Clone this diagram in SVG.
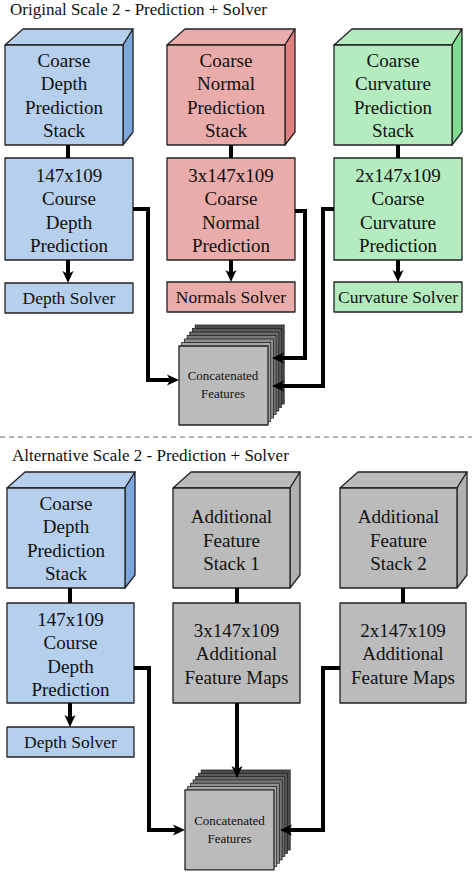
<svg xmlns="http://www.w3.org/2000/svg" width="472" height="872" viewBox="0 0 472 872" font-family="'Liberation Serif', Tinos, serif">
<defs>
<style>
text{fill:#111;text-anchor:middle}
.t{font-size:19px}
.s{font-size:17.5px}
.c{font-size:13px}
.h{font-size:17px;text-anchor:start}
.ed{stroke:#222;stroke-width:1.3;stroke-linejoin:round}
.blue{fill:#b5cfed}.blueS{fill:#7ba7dc}
.pink{fill:#eaabab}.pinkS{fill:#e07f7f}
.green{fill:#b4ecc0}.greenS{fill:#80dc8e}
.gray{fill:#bbbbbb}.grayS{fill:#b0b0b0}
.ln{fill:none;stroke:#000;stroke-width:4}
.ar{fill:none;stroke:#000;stroke-width:4;marker-end:url(#ah)}
.ly{stroke:#222;stroke-width:0.8}
</style>
<marker id="ah" viewBox="-5 -6 14 12" refX="0" refY="0" markerWidth="14" markerHeight="12" markerUnits="userSpaceOnUse" orient="auto">
<path d="M8,0 L-4,-5.5 L-1,0 L-4,5.5 z" fill="#000"/>
</marker>
</defs>
<rect width="472" height="872" fill="#fff"/>

<text class="h" x="10" y="15">Original Scale 2 - Prediction + Solver</text>
<line x1="0" y1="437" x2="472" y2="437" stroke="#999" stroke-width="1.5" stroke-dasharray="5 4"/>
<text class="h" x="12" y="461">Alternative Scale 2 - Prediction + Solver</text>

<!-- Top blue -->
<g id="depth-stack">
<polygon class="blue ed" points="5,45 23,29 133,29 123,45"/>
<polygon class="blueS ed" points="123,45 133,29 133,132 123,145"/>
<rect class="blue ed" x="5" y="45" width="118" height="100"/>
<text class="t" x="64" y="67">Coarse</text><text class="t" x="64" y="90.3">Depth</text><text class="t" x="64" y="113.7">Prediction</text><text class="t" x="64" y="137">Stack</text>
</g>
<g id="depth-pred">
<rect class="blue ed" x="5" y="158" width="128" height="102"/>
<text class="t" x="69" y="182">147x109</text><text class="t" x="69" y="205.3">Course</text><text class="t" x="69" y="228.6">Depth</text><text class="t" x="69" y="252">Prediction</text>
</g>
<g id="depth-solver">
<rect class="blue ed" x="5" y="283" width="128" height="30"/>
<text class="s" x="69" y="304">Depth Solver</text>
</g>

<!-- Top pink -->
<g id="normal-stack">
<polygon class="pink ed" points="167,45 185,29 295,29 285,45"/>
<polygon class="pinkS ed" points="285,45 295,29 295,132 285,145"/>
<rect class="pink ed" x="167" y="45" width="118" height="100"/>
<text class="t" x="226" y="67">Coarse</text><text class="t" x="226" y="90.3">Normal</text><text class="t" x="226" y="113.7">Prediction</text><text class="t" x="226" y="137">Stack</text>
</g>
<g id="normal-pred">
<rect class="pink ed" x="167" y="158" width="128" height="102"/>
<text class="t" x="231" y="182">3x147x109</text><text class="t" x="231" y="205.3">Coarse</text><text class="t" x="231" y="228.6">Normal</text><text class="t" x="231" y="252">Prediction</text>
</g>
<g id="normal-solver">
<rect class="pink ed" x="167" y="282" width="128" height="30"/>
<text class="s" x="231" y="303">Normals Solver</text>
</g>

<!-- Top green -->
<g id="curv-stack">
<polygon class="green ed" points="334,45 352,29 462,29 452,45"/>
<polygon class="greenS ed" points="452,45 462,29 462,132 452,145"/>
<rect class="green ed" x="334" y="45" width="118" height="100"/>
<text class="t" x="393" y="67">Coarse</text><text class="t" x="393" y="90.3">Curvature</text><text class="t" x="393" y="113.7">Prediction</text><text class="t" x="393" y="137">Stack</text>
</g>
<g id="curv-pred">
<rect class="green ed" x="334" y="158" width="128" height="102"/>
<text class="t" x="398" y="182">2x147x109</text><text class="t" x="398" y="205.3">Coarse</text><text class="t" x="398" y="228.6">Curvature</text><text class="t" x="398" y="252">Prediction</text>
</g>
<g id="curv-solver">
<rect class="green ed" x="334" y="282" width="128" height="30"/>
<text class="s" x="398" y="303">Curvature Solver</text>
</g>

<!-- Top concatenated -->
<g id="concat-top">
<rect class="ly" x="195.2" y="325" width="89" height="79" fill="#4d4d4d"/>
<rect class="ly" x="192.5" y="328.5" width="89" height="79" fill="#5a5a5a"/>
<rect class="ly" x="189.8" y="332" width="89" height="79" fill="#6a6a6a"/>
<rect class="ly" x="187.1" y="335.5" width="89" height="79" fill="#7a7a7a"/>
<rect class="ly" x="184.4" y="339" width="89" height="79" fill="#909090"/>
<rect class="ly" x="181.7" y="342.5" width="89" height="79" fill="#a5a5a5"/>
<rect class="gray ed" x="179" y="346" width="89" height="79"/>
<text class="c" x="223" y="380">Concatenated</text><text class="c" x="223" y="398">Features</text>
</g>

<!-- Bottom blue -->
<g id="depth-stack-2">
<polygon class="blue ed" points="7,488 25,472 135,472 125,488"/>
<polygon class="blueS ed" points="125,488 135,472 135,575 125,588"/>
<rect class="blue ed" x="7" y="488" width="118" height="100"/>
<text class="t" x="66" y="510">Coarse</text><text class="t" x="66" y="533.3">Depth</text><text class="t" x="66" y="556.7">Prediction</text><text class="t" x="66" y="580">Stack</text>
</g>
<g id="depth-pred-2">
<rect class="blue ed" x="7" y="603" width="127" height="100"/>
<text class="t" x="70.5" y="626">147x109</text><text class="t" x="70.5" y="649.3">Course</text><text class="t" x="70.5" y="672.6">Depth</text><text class="t" x="70.5" y="696">Prediction</text>
</g>
<g id="depth-solver-2">
<rect class="blue ed" x="7" y="727" width="127" height="30"/>
<text class="s" x="70.5" y="748">Depth Solver</text>
</g>

<!-- Bottom gray 1 -->
<g id="feat-stack-1">
<polygon class="gray ed" points="173,488 191,472 300,472 290,488"/>
<polygon class="grayS ed" points="290,488 300,472 300,575 290,588"/>
<rect class="gray ed" x="173" y="488" width="117" height="100"/>
<text class="t" x="231.5" y="523">Additional</text><text class="t" x="231.5" y="546.5">Feature</text><text class="t" x="231.5" y="570">Stack 1</text>
</g>
<g id="feat-maps-1">
<rect class="gray ed" x="173" y="603" width="127" height="100"/>
<text class="t" x="236.5" y="636.5">3x147x109</text><text class="t" x="236.5" y="660">Additional</text><text class="t" x="236.5" y="683.5">Feature Maps</text>
</g>

<!-- Bottom gray 2 -->
<g id="feat-stack-2">
<polygon class="gray ed" points="340,488 358,472 467,472 457,488"/>
<polygon class="grayS ed" points="457,488 467,472 467,575 457,588"/>
<rect class="gray ed" x="340" y="488" width="117" height="100"/>
<text class="t" x="398.5" y="523">Additional</text><text class="t" x="398.5" y="546.5">Feature</text><text class="t" x="398.5" y="570">Stack 2</text>
</g>
<g id="feat-maps-2">
<rect class="gray ed" x="340" y="603" width="126" height="100"/>
<text class="t" x="403" y="636.5">2x147x109</text><text class="t" x="403" y="660">Additional</text><text class="t" x="403" y="683.5">Feature Maps</text>
</g>

<!-- Bottom concatenated -->
<g id="concat-bottom">
<rect class="ly" x="201.2" y="770" width="89" height="80" fill="#4d4d4d"/>
<rect class="ly" x="198.5" y="773.3" width="89" height="80" fill="#5a5a5a"/>
<rect class="ly" x="195.8" y="776.6" width="89" height="80" fill="#6a6a6a"/>
<rect class="ly" x="193.1" y="779.9" width="89" height="80" fill="#7a7a7a"/>
<rect class="ly" x="190.4" y="783.2" width="89" height="80" fill="#909090"/>
<rect class="ly" x="187.7" y="786.5" width="89" height="80" fill="#a5a5a5"/>
<rect class="gray ed" x="185" y="789.8" width="89" height="80"/>
<text class="c" x="229.5" y="825">Concatenated</text><text class="c" x="229.5" y="843">Features</text>
</g>

<g id="connectors">
<line class="ln" x1="68" y1="145" x2="68" y2="158"/>
<line class="ln" x1="231" y1="145" x2="231" y2="158"/>
<line class="ln" x1="398" y1="145" x2="398" y2="158"/>
<path class="ar" d="M68,260 V275"/>
<path class="ar" d="M231,260 V274"/>
<path class="ar" d="M398,260 V274"/>
<path class="ar" d="M133,209 H148 V380 H171"/>
<path class="ar" d="M295,211 H305 V358 H280"/>
<path class="ar" d="M334,209 H323 V386 H280"/>

<line class="ln" x1="70" y1="588" x2="70" y2="603"/>
<line class="ln" x1="237" y1="588" x2="237" y2="603"/>
<line class="ln" x1="403" y1="588" x2="403" y2="603"/>
<path class="ar" d="M70,703 V719"/>
<path class="ar" d="M134,668 H149 V830 H177"/>
<path class="ar" d="M340,668 H323 V830 H288"/>
<path class="ar" d="M237,703 V770"/>
</g>
</svg>
